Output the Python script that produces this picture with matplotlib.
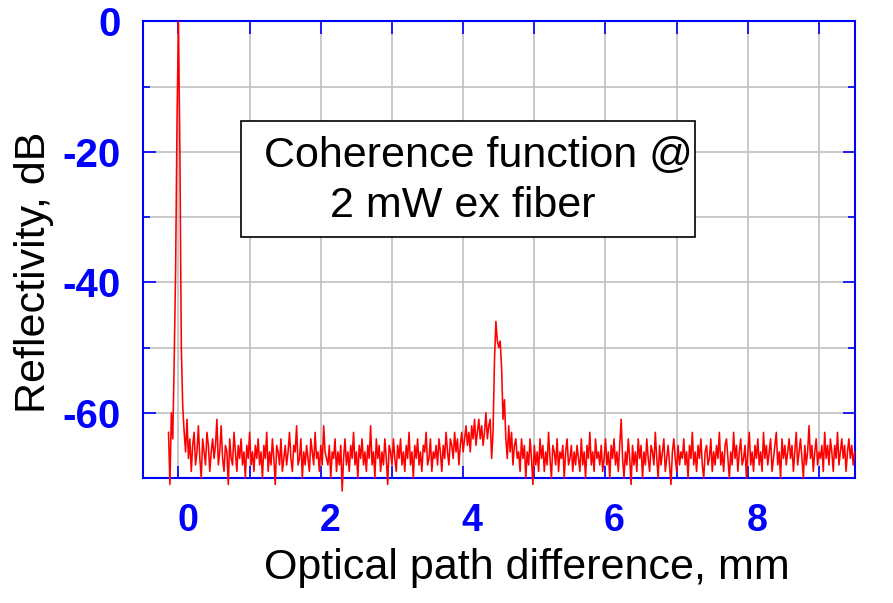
import numpy as np
import matplotlib
matplotlib.use("Agg")
import matplotlib.pyplot as plt
from matplotlib.patches import Rectangle
from matplotlib.transforms import ScaledTranslation

# sampled trace: start position and step in mm, values in dB
x_start = -0.14
x_step = 0.02

peak_db = [-63, -71, -60, -64, -52, -38, -15, 0, -20, -50, -59, -63]

floor_db = [
    # 0.10 - 0.58
    -66, -61, -67, -64, -69, -65, -63, -68, -66, -62, -67, -70, -64, -66, -68, -63, -65, -69, -66, -64, -67, -65, -61, -68, -66,
    # 0.60 - 1.08
    -62, -67, -69, -65, -66, -71, -64, -67, -68, -63, -66, -69, -65, -67, -64, -68, -66, -70, -65, -67, -63, -68, -66, -69, -65,
    # 1.10 - 1.58
    -67, -64, -68, -66, -70, -65, -67, -63, -69, -66, -68, -64, -67, -71, -65, -66, -68, -64, -69, -67, -65, -68, -66, -63, -67,
    # 1.60 - 2.08
    -69, -65, -66, -62, -68, -67, -64, -70, -66, -68, -65, -67, -69, -64, -66, -68, -63, -67, -66, -69, -65, -68, -62, -66, -67,
    # 2.10 - 2.58
    -68, -65, -70, -66, -67, -64, -69, -66, -68, -65, -72, -67, -64, -68, -66, -69, -65, -67, -63, -68, -66, -70, -65, -67, -64,
    # 2.60 - 3.08
    -68, -66, -69, -65, -67, -62, -68, -66, -70, -64, -67, -65, -69, -66, -68, -64, -67, -71, -65, -66, -68, -64, -67, -69, -65,
    # 3.10 - 3.58
    -67, -64, -68, -66, -69, -65, -67, -63, -68, -66, -70, -65, -67, -64, -68, -66, -69, -65, -66, -63, -68, -67, -64, -69, -66,
    # 3.60 - 4.08
    -67, -65, -68, -64, -66, -69, -65, -67, -63, -66, -68, -64, -65, -67, -63, -66, -64, -68, -65, -63, -66, -64, -62, -65, -63,
    # 4.10 - 4.58 (second reflection)
    -66, -62, -64, -61, -65, -63, -61, -64, -62, -65, -63, -60, -64, -62, -61, -67, -63, -52, -46, -49, -50, -49, -53, -61, -58,
    # 4.60 - 5.08
    -64, -67, -62, -66, -63, -68, -65, -64, -67, -66, -69, -64, -67, -65, -70, -66, -68, -64, -67, -71, -65, -68, -66, -69, -64,
    # 5.10 - 5.58
    -67, -65, -69, -66, -68, -63, -67, -70, -65, -66, -68, -64, -69, -66, -67, -65, -70, -66, -64, -68, -67, -65, -69, -66, -68,
    # 5.60 - 6.08
    -65, -67, -69, -64, -68, -66, -70, -65, -67, -63, -68, -66, -69, -64, -67, -66, -68, -65, -69, -67, -64, -68, -66, -70, -65,
    # 6.10 - 6.58
    -67, -64, -68, -66, -69, -65, -61, -67, -70, -66, -68, -64, -67, -71, -65, -68, -66, -69, -64, -67, -65, -70, -66, -68, -64,
    # 6.60 - 7.08
    -67, -69, -65, -66, -68, -63, -67, -70, -65, -68, -66, -64, -69, -67, -65, -68, -71, -66, -64, -67, -69, -65, -68, -66, -67,
    # 7.10 - 7.58
    -64, -68, -66, -70, -65, -67, -63, -68, -66, -69, -65, -67, -64, -68, -70, -66, -65, -68, -67, -64, -69, -66, -68, -65, -67,
    # 7.60 - 8.08
    -63, -68, -66, -69, -65, -64, -67, -70, -66, -68, -63, -67, -65, -69, -66, -64, -68, -67, -65, -70, -66, -63, -68, -66, -69,
    # 8.10 - 8.58
    -65, -67, -64, -68, -66, -69, -63, -67, -65, -68, -66, -64, -69, -67, -65, -63, -68, -66, -70, -64, -67, -65, -68, -66, -64,
    # 8.60 - 9.08
    -67, -65, -69, -66, -63, -68, -66, -64, -67, -70, -65, -68, -66, -62, -67, -65, -69, -66, -64, -68, -66, -67, -65, -69, -63,
    # 9.10 - 9.50
    -67, -65, -68, -64, -66, -69, -65, -67, -63, -68, -66, -64, -67, -65, -69, -66, -64, -67, -65, -68, -66,
]

x_ticks = [0, 1, 2, 3, 4, 5, 6, 7, 8, 9]
x_labels = ['0', '', '2', '', '4', '', '6', '', '8', '']
y_ticks = [0, -20, -40, -60]
y_labels = ['0', '-20', '-40', '-60']

refl = np.array(peak_db + floor_db, dtype=float)
opd = x_start + x_step * np.arange(len(refl))

plt.rcParams['font.family'] = ['Liberation Sans', 'DejaVu Sans']

fig = plt.figure(figsize=(8.93, 6.03), dpi=100)
ax = fig.add_axes([0.160, 0.2073, 0.797, 0.7574])

ax.plot(opd, refl, color='red', lw=1.15, clip_on=False, zorder=3)

ax.set_xlim(-0.5, 9.5)
ax.set_ylim(-70, 0)

# grid every 1 mm and 10 dB
ax.set_xticks(x_ticks)
ax.set_xticklabels(x_labels)
ax.set_yticks(y_ticks)
ax.set_yticklabels(y_labels)
ax.set_yticks([-10, -30, -50, -70], minor=True)
ax.grid(True, which='both', color='#c0c0c0', lw=1.2, zorder=0)
ax.set_axisbelow(True)

for s in ax.spines.values():
    s.set_color('blue')
    s.set_linewidth(1.5)

ax.tick_params(which='major', direction='in', length=9, width=1.2, color='blue',
               top=True, right=True)
ax.tick_params(which='minor', direction='in', length=5, width=1.2, color='blue',
               top=True, right=True)
ax.tick_params(axis='y', labelsize=29, labelcolor='blue', pad=16)
ax.tick_params(axis='x', labelsize=27, labelcolor='blue', pad=18)
for lab in ax.get_xticklabels() + ax.get_yticklabels():
    lab.set_fontweight('bold')
# labels sit a little to the right of their gridlines
shift = ScaledTranslation(9 / 100, 0, fig.dpi_scale_trans)
for lab in ax.get_xticklabels():
    lab.set_transform(lab.get_transform() + shift)

ax.set_xlabel('Optical path difference, mm', fontsize=31)
ax.xaxis.set_label_coords(0.54, -0.197)
ax.xaxis.label.set_va('center')
ax.set_ylabel('Reflectivity, dB', fontsize=31)
ax.yaxis.set_label_coords(-0.153, 0.451)
ax.yaxis.label.set_va('center')

# annotation box
ax.add_patch(Rectangle((0.1382, 0.527), 0.6376, 0.2555, transform=ax.transAxes,
                       facecolor='white', edgecolor='black', lw=1.2, zorder=5))
ax.text(0.4715, 0.68, 'Coherence function @', transform=ax.transAxes,
        fontsize=31, ha='center', va='baseline', zorder=6)
ax.text(0.4495, 0.571, '2 mW ex fiber', transform=ax.transAxes,
        fontsize=31, ha='center', va='baseline', zorder=6)

fig.savefig('out.png', dpi=100)
